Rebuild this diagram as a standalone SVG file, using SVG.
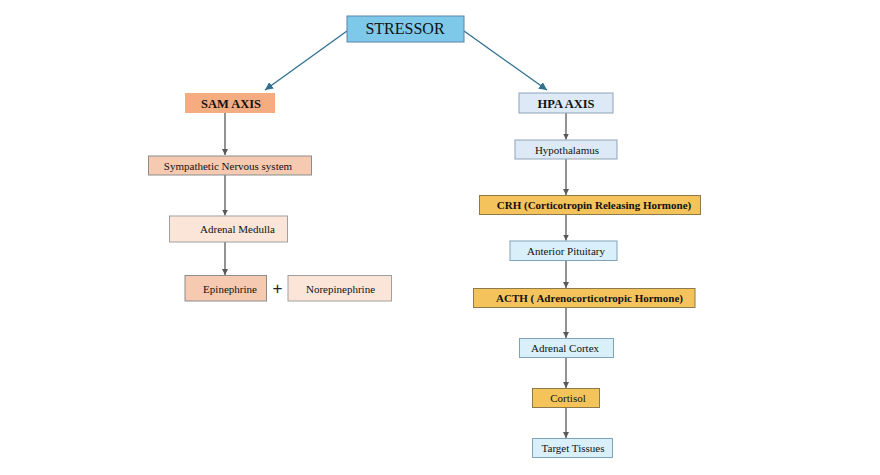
<svg xmlns="http://www.w3.org/2000/svg" width="880" height="475" viewBox="0 0 880 475">
<defs>
<style>
.t{font-family:"Liberation Serif","Times New Roman",serif;font-size:11px;fill:#111;text-anchor:middle}
.b{font-weight:bold}
.c{fill:none;stroke:#595959;stroke-width:1.3}
.cb{fill:none;stroke:#2f6f8f;stroke-width:1.3}
.blue{fill:#dde9f6;stroke:#8da3b8;stroke-width:1}
.cyan{fill:#d9eff9;stroke:#7fa3b8;stroke-width:1}
.gold{fill:#f4c35c;stroke:#8c7a4a;stroke-width:1}
.sal{fill:#f6c9b1;stroke:#8c8c8c;stroke-width:1}
.pale{fill:#fbe5d9;stroke:#a0a0a0;stroke-width:1}
</style>
<marker id="ag" viewBox="0 0 10 10" refX="10" refY="5" markerWidth="6" markerHeight="6" orient="auto" markerUnits="userSpaceOnUse"><path d="M0,0L10,5L0,10z" fill="#595959"/></marker>
<marker id="ab" viewBox="0 0 10 10" refX="10" refY="5" markerWidth="8" markerHeight="8" orient="auto" markerUnits="userSpaceOnUse"><path d="M0,0L10,5L0,10z" fill="#2f6f8f"/></marker>
</defs>
<rect width="880" height="475" fill="#fff"/>
<g id="connectors">
<path class="cb" d="M347,31L265,90" marker-end="url(#ab)"/>
<path class="cb" d="M464,31L547,90" marker-end="url(#ab)"/>
<path class="c" d="M225,113V155" marker-end="url(#ag)"/>
<path class="c" d="M225,175V215.5" marker-end="url(#ag)"/>
<path class="c" d="M225,242V275" marker-end="url(#ag)"/>
<path class="c" d="M566,113V139.5" marker-end="url(#ag)"/>
<path class="c" d="M566,159V195" marker-end="url(#ag)"/>
<path class="c" d="M566,214V240.5" marker-end="url(#ag)"/>
<path class="c" d="M566,261V288" marker-end="url(#ag)"/>
<path class="c" d="M566,307V338" marker-end="url(#ag)"/>
<path class="c" d="M566,357V388" marker-end="url(#ag)"/>
<path class="c" d="M566,407V438" marker-end="url(#ag)"/>
</g>
<g id="stressor"><rect x="347" y="16" width="117" height="26" fill="#7ec8ea" stroke="#5a86a8"/><text class="t" x="405" y="34" style="font-size:16px">STRESSOR</text></g>
<g id="sam"><rect x="185" y="93" width="90" height="20" fill="#f4ac80"/><text class="t b" x="231" y="108" style="font-size:12.5px">SAM AXIS</text></g>
<g id="hpa"><rect x="519" y="93" width="94" height="20" class="blue"/><text class="t b" x="566" y="108" style="font-size:12.5px">HPA AXIS</text></g>
<g id="sympathetic"><rect x="148.5" y="156" width="163" height="19" class="sal"/><text class="t" x="228" y="169.5">Sympathetic Nervous system</text></g>
<g id="medulla"><rect x="169.5" y="216" width="118" height="26" class="pale"/><text class="t" x="237.5" y="233">Adrenal Medulla</text></g>
<g id="epinephrine"><rect x="185" y="275.5" width="81.5" height="25.5" class="sal"/><text class="t" x="230" y="292.5">Epinephrine</text></g>
<text x="277.5" y="294" style="font-family:'Liberation Sans',Arial,sans-serif;font-size:17px;text-anchor:middle;fill:#222">+</text>
<g id="norepinephrine"><rect x="288" y="275.5" width="103.5" height="25.5" class="pale"/><text class="t" x="340.5" y="292.5">Norepinephrine</text></g>
<g id="hypothalamus"><rect x="515" y="140" width="102" height="19" class="blue"/><text class="t" x="567" y="153.5">Hypothalamus</text></g>
<g id="crh"><rect x="479.5" y="195.5" width="221" height="19" class="gold"/><text class="t b" x="594" y="209">CRH (Corticotropin Releasing Hormone)</text></g>
<g id="pituitary"><rect x="510" y="241" width="107" height="19.5" class="cyan"/><text class="t" x="566" y="254.5">Anterior Pituitary</text></g>
<g id="acth"><rect x="473.5" y="288.5" width="221.5" height="19" class="gold"/><text class="t b" x="589.5" y="302">ACTH ( Adrenocorticotropic Hormone)</text></g>
<g id="cortex"><rect x="519.5" y="338.5" width="94" height="19" class="cyan"/><text class="t" x="565" y="352">Adrenal Cortex</text></g>
<g id="cortisol"><rect x="532.5" y="388.5" width="67" height="19" class="gold"/><text class="t" x="568" y="402">Cortisol</text></g>
<g id="target"><rect x="532.5" y="438.5" width="80" height="19" class="cyan"/><text class="t" x="573" y="452">Target Tissues</text></g>
</svg>
